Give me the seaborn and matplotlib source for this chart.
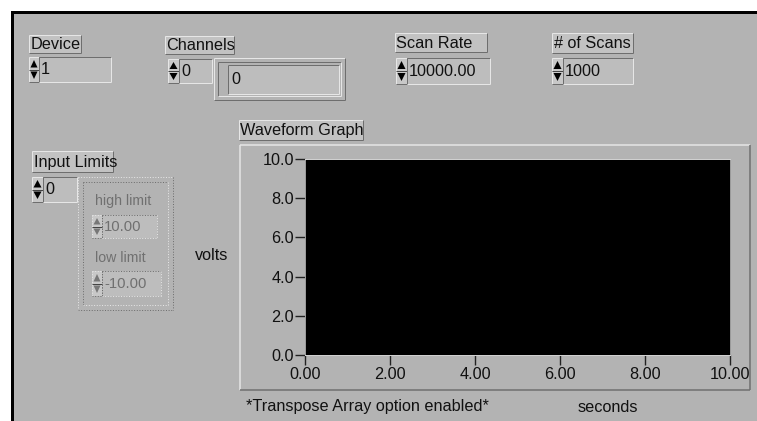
import matplotlib
matplotlib.use("Agg")
import matplotlib.pyplot as plt
import seaborn as sns
import numpy as np
import pandas as pd
from matplotlib.patches import Rectangle, Polygon

# ---------------- data ----------------
x_ticks = [0, 2, 4, 6, 8, 10]
x_tick_labels = ["0.00", "2.00", "4.00", "6.00", "8.00", "10.00"]
y_ticks = [0, 2, 4, 6, 8, 10]
y_tick_labels = ["0.0", "2.0", "4.0", "6.0", "8.0", "10.0"]
wave_seconds = []   # no waveform acquired yet: the graph is empty
wave_volts = []

device_value = "1"
channel_index = "0"
channel_value = "0"
scan_rate_value = "10000.00"
scans_value = "1000"
limits_index = "0"
high_limit_value = "10.00"
low_limit_value = "-10.00"

# ---------------- style ----------------
sns.set_theme(style="dark")
plt.rcParams['font.family'] = ['Liberation Sans', 'DejaVu Sans']

W, H = 757, 421
PANEL = "#b3b3b3"
LIGHT = "#e6e6e6"
DARK = "#6e6e6e"
BOX = "#bdbdbd"
FS = 11.7
TXT = "#111111"

fig = plt.figure(figsize=(W / 100, H / 100), dpi=100, facecolor="white")
bg = fig.add_axes([0, 0, 1, 1])
bg.set_xlim(0, W)
bg.set_ylim(H, 0)
bg.axis("off")

PX = 0.72  # points per pixel


def line(x0, y0, x1, y1, c, w=1):
    bg.plot([x0, x1], [y0, y1], color=c, lw=w * PX, solid_capstyle="butt", ls="-")


def box3d(x0, y0, x1, y1, raised=True, fill=BOX, w=1, ls="-"):
    bg.add_patch(Rectangle((x0, y0), x1 - x0, y1 - y0, facecolor=fill, edgecolor="none"))
    tl, br = (LIGHT, DARK) if raised else (DARK, LIGHT)
    for (a, b, c, d, col) in [(x0, y0, x1, y0, tl), (x0, y0, x0, y1, tl),
                              (x0, y1, x1, y1, br), (x1, y0, x1, y1, br)]:
        bg.plot([a, c], [b, d], color=col, lw=w * PX, ls=ls, solid_capstyle="butt")


def label(x0, y0, x1, y1, s):
    box3d(x0, y0, x1, y1, raised=True, fill="#c2c2c2")
    bg.text(x0 + 1.5, (y0 + y1) / 2 + 0.5, s, ha="left", va="center", fontsize=FS, color=TXT)


def spinner(x0, y0, x1, y1, color="black", ls="-"):
    box3d(x0, y0, x1, y1, raised=True, fill="#c8c8c8", ls=ls)
    ym = (y0 + y1) / 2
    cx = (x0 + x1) / 2
    hw = (x1 - x0) / 2 - 1.5
    bg.add_patch(Polygon([[cx - hw, ym - 2], [cx + hw, ym - 2], [cx, y0 + 3]],
                         closed=True, facecolor=color, edgecolor="none"))
    bg.add_patch(Polygon([[cx - hw, ym + 2], [cx + hw, ym + 2], [cx, y1 - 3]],
                         closed=True, facecolor=color, edgecolor="none"))
    line(x0, ym, x1, ym, "#444", 1)


def numeric(sx0, bx0, y0, x1, y1, val, color=TXT, ls="-", fs=FS):
    spinner(sx0, y0, bx0, y1, color="black" if ls == "-" else "#777", ls=ls)
    box3d(bx0, y0, x1, y1, raised=False, fill=BOX, ls=ls)
    bg.text(bx0 + 2, (y0 + y1) / 2 + 0.5, val, ha="left", va="center", fontsize=fs, color=color)


# panel with black border
bg.add_patch(Rectangle((11.5, 12), W, H, facecolor=PANEL, edgecolor="black", lw=3 * PX))

# Device
label(29, 35, 81, 53, "Device")
numeric(29, 39, 57, 111, 82, device_value)

# Channels
label(165, 36, 234, 54, "Channels")
numeric(168, 179, 59, 212, 83, channel_index)
box3d(214, 58, 345, 100, raised=True, fill=PANEL)
box3d(218, 62, 341, 96, raised=False, fill=PANEL)
box3d(228, 65, 339, 94, raised=False, fill=BOX)
bg.text(231, 80, channel_value, ha="left", va="center", fontsize=FS, color=TXT)

# Scan Rate
label(395, 33, 487, 52, "Scan Rate")
numeric(396, 407, 58, 490, 84, scan_rate_value)

# # of Scans
label(552, 33, 633, 53, "# of Scans")
numeric(552, 563, 58, 633, 84, scans_value)

# Input Limits
label(32, 151, 113, 172, "Input Limits")
numeric(32, 43, 177, 77, 202, limits_index)

# disabled cluster (dotted)
box3d(78, 177, 173, 310, raised=True, fill=PANEL, ls=":")
box3d(83, 182, 168, 305, raised=False, fill=PANEL, ls=":")
bg.text(95, 201, "high limit", ha="left", va="center", fontsize=FS - 1.5, color="#707070")
numeric(92, 102, 215, 157, 238, high_limit_value, color="#707070", ls=":", fs=FS - 1)
bg.text(95, 258, "low limit", ha="left", va="center", fontsize=FS - 1.5, color="#707070")
numeric(92, 102, 271, 161, 296, low_limit_value, color="#707070", ls=":", fs=FS - 1)

# volts label
bg.text(212, 255, "volts", ha="center", va="center", fontsize=FS, color=TXT)

# Waveform Graph label + frame
label(239, 120, 363, 140, "Waveform Graph")
box3d(240, 145, 750, 390, raised=True, fill=PANEL, w=1.5)

bg.text(246, 407, "*Transpose Array option enabled*", ha="left", va="center", fontsize=FS, color=TXT)
bg.text(608, 407, "seconds", ha="center", va="center", fontsize=FS, color=TXT)

# ---------------- graph ----------------
L, T, R, B = 305, 159, 730, 355
ax = fig.add_axes([L / W, 1 - B / H, (R - L) / W, (B - T) / H])
ax.set_facecolor("black")
df = pd.DataFrame({"seconds": pd.Series(wave_seconds, dtype=float),
                   "volts": pd.Series(wave_volts, dtype=float)})
sns.lineplot(data=df, x="seconds", y="volts", ax=ax, color="white")
ax.set_xlim(min(x_ticks), max(x_ticks))
ax.set_ylim(min(y_ticks), max(y_ticks))
ax.set_xticks(x_ticks)
ax.set_xticklabels(x_tick_labels)
ax.set_yticks(y_ticks)
ax.set_yticklabels(y_tick_labels)
ax.set_xlabel("")
ax.set_ylabel("")
ax.grid(False)
ax.tick_params(axis="both", which="both", direction="out", length=7, width=1,
               color="#222", labelsize=FS, labelcolor=TXT, pad=1,
               bottom=True, left=True)
ax.tick_params(axis="x", pad=1.5)
for side, sp in ax.spines.items():
    sp.set_visible(True)
    sp.set_color("#d0d0d0" if side in ("top", "bottom") else "#9a9a9a")
    sp.set_linewidth(1 * PX)

fig.savefig("out.png", dpi=100, facecolor="white")
